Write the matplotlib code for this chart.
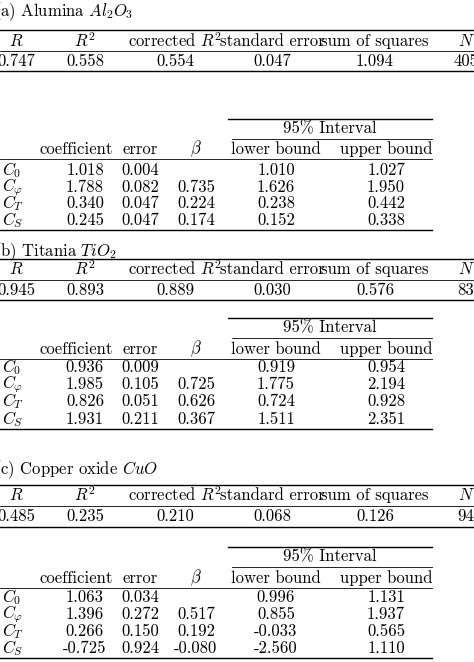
import matplotlib
matplotlib.use("Agg")
import matplotlib.pyplot as plt
from matplotlib.lines import Line2D

plt.rcParams['font.family'] = 'serif'
plt.rcParams['font.serif'] = ['cmr10', 'DejaVu Serif']
plt.rcParams['mathtext.fontset'] = 'cm'
plt.rcParams['axes.unicode_minus'] = False

W, H = 474, 662
titles = ["(a) Alumina $Al_2O_3$", "(b) Titania $TiO_2$", "(c) Copper oxide $CuO$"]
summary_header = ["$R$", "$R^2$", "corrected $R^2$", "standard error", "sum of squares", "$N$"]
summary_values = [
    ["0.747", "0.558", "0.554", "0.047", "1.094", "405"],
    ["0.945", "0.893", "0.889", "0.030", "0.576", "83"],
    ["0.485", "0.235", "0.210", "0.068", "0.126", "94"],
]
coef_header = ["coefficient", "error", r"$\beta$", "lower bound", "upper bound"]
row_labels = ["$C_0$", r"$C_\varphi$", "$C_T$", "$C_S$"]
coef_values = [
    [["1.018", "0.004", "", "1.010", "1.027"],
     ["1.788", "0.082", "0.735", "1.626", "1.950"],
     ["0.340", "0.047", "0.224", "0.238", "0.442"],
     ["0.245", "0.047", "0.174", "0.152", "0.338"]],
    [["0.936", "0.009", "", "0.919", "0.954"],
     ["1.985", "0.105", "0.725", "1.775", "2.194"],
     ["0.826", "0.051", "0.626", "0.724", "0.928"],
     ["1.931", "0.211", "0.367", "1.511", "2.351"]],
    [["1.063", "0.034", "", "0.996", "1.131"],
     ["1.396", "0.272", "0.517", "0.855", "1.937"],
     ["0.266", "0.150", "0.192", "-0.033", "0.565"],
     ["-0.725", "0.924", "-0.080", "-2.560", "1.110"]],
]

fig = plt.figure(figsize=(W/100, H/100), dpi=100)
FS = 12

def T(x, y, s, ha='center', **kw):
    fig.text(x/W, 1-y/H, s, ha=ha, va='center', fontsize=FS, **kw)

def L(x0, x1, y, lw=1.0):
    fig.add_artist(Line2D([x0/W, x1/W], [1-y/H, 1-y/H], color='black', lw=lw))

sum_x = [16, 85, 175, 272, 375, 466]
coef_x = [76, 140, 196, 276, 386]

sections = [
    dict(t=12, r0=30, h=41, r1=51, d=61, r2=71, c0=119, ci=129, cr=139, ch=149, c1=159, rows=[170, 187, 203, 220], cb=230),
    dict(t=252, r0=259, h=269, r1=280, d=290, r2=300, c0=318, ci=328, cr=338, ch=349, c1=359, rows=[367, 384, 401, 419], cb=429),
    dict(t=470, r0=485, h=495, r1=506, d=516, r2=527, c0=547, ci=557, cr=567, ch=578, c1=588, rows=[597, 614, 631, 648], cb=658),
]

for k, s in enumerate(sections):
    T(-6, s['t'], titles[k], ha='left')
    L(0, 474, s['r0'])
    for x, lab in zip(sum_x, summary_header):
        T(x, s['h'], lab)
    L(0, 474, s['r1'], lw=0.6)
    for x, v in zip(sum_x, summary_values[k]):
        T(x, s['d'], v)
    L(0, 474, s['r2'])

    L(228, 432, s['c0'])
    T(330, s['ci'], "95% Interval")
    L(232, 432, s['cr'], lw=0.6)
    for x, lab in zip(coef_x, coef_header):
        T(x, s['ch'], lab)
    L(0, 432, s['c1'], lw=0.6)
    for y, lab, vals in zip(s['rows'], row_labels, coef_values[k]):
        T(2, y, lab, ha='left')
        for x, v in zip(coef_x, vals):
            T(x + 9 if x == 76 else x, y, v)
    L(0, 432, s['cb'])

fig.savefig("out.png", dpi=100)
